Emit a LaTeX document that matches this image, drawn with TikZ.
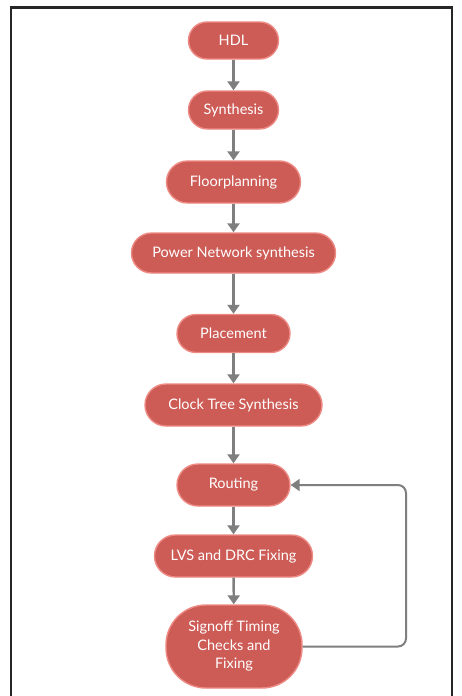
\documentclass[tikz,border=0pt]{standalone}
\usepackage{fontspec}
\setmainfont{Lato}
\usetikzlibrary{arrows.meta}
\definecolor{boxfill}{HTML}{CD5C57}
\definecolor{boxedge}{HTML}{EE8A84}
\definecolor{flowgray}{HTML}{7F7F7F}
\begin{document}
\begin{tikzpicture}[x=1pt,y=-1pt,
  stage/.style={draw=boxedge, line width=1.4pt, fill=boxfill, text=white,
    font=\fontsize{14.5}{18.5}\selectfont, inner sep=0pt, align=center},
  flow/.style={draw=flowgray, line width=2.4pt,
    -{Triangle[width=12pt,length=9pt]}}]
  % page and frame
  \fill[white] (0,0) rectangle (461,696);
  \useasboundingbox (0,0) rectangle (461,696);
  \draw[line width=2.6pt, draw=black!85] (11,696) -- (11,7.5) -- (452,7.5) -- (452,696);

  % stages
  \node[stage, minimum width=90pt, minimum height=37pt, rounded corners=18.5pt] (hdl) at (233.5,40.5) {HDL};
  \node[stage, minimum width=90pt, minimum height=38pt, rounded corners=19pt] (syn) at (233.5,110) {Synthesis};
  \node[stage, minimum width=134pt, minimum height=42pt, rounded corners=21pt] (fp) at (233.5,182) {Floorplanning};
  \node[stage, minimum width=204pt, minimum height=40pt, rounded corners=20pt] (pns) at (233.5,253) {Power Network synthesis};
  \node[stage, minimum width=113pt, minimum height=38pt, rounded corners=19pt] (pl) at (233.5,333.5) {Placement};
  \node[stage, minimum width=177pt, minimum height=42pt, rounded corners=21pt] (cts) at (233.5,405) {Clock Tree Synthesis};
  \node[stage, minimum width=113pt, minimum height=42pt, rounded corners=21pt] (rt) at (233.5,485) {Routing};
  \node[stage, minimum width=158pt, minimum height=42pt, rounded corners=21pt] (lvs) at (233.5,556) {LVS and DRC Fixing};
  \node[stage, minimum width=136pt, minimum height=83pt, rounded corners=40pt] (so) at (234,646.5)
    {Signoff Timing\\Checks and\\Fixing};

  % connectors
  \draw[flow] (hdl) -- (syn);
  \draw[flow] (syn) -- (fp);
  \draw[flow] (fp) -- (pns);
  \draw[flow] (pns) -- (pl);
  \draw[flow] (pl) -- (cts);
  \draw[flow] (cts) -- (rt);
  \draw[flow] (rt) -- (lvs);
  \draw[flow] (lvs) -- (so);
  \draw[flow, line width=2pt, rounded corners=8pt] (so.east) -- (406,646.5) -- (406,485) -- (rt.east);
\end{tikzpicture}
\end{document}
